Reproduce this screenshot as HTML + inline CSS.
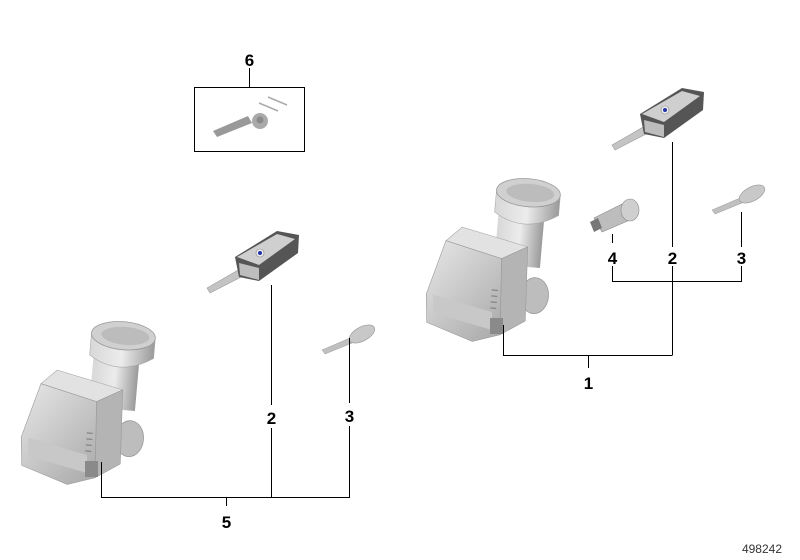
<!DOCTYPE html>
<html><head><meta charset="utf-8"><style>
html,body{margin:0;padding:0;background:#fff;}
svg{display:block}
text{font-family:"Liberation Sans",Arial,sans-serif;font-weight:bold;fill:#000}
</style></head><body>
<svg width="800" height="560" viewBox="0 0 800 560" xmlns="http://www.w3.org/2000/svg">
<defs>
<linearGradient id="g1" x1="0" y1="0" x2="1" y2="1"><stop offset="0" stop-color="#e6e6e6"/><stop offset="1" stop-color="#a8a8a8"/></linearGradient>
<linearGradient id="g2" x1="0" y1="0" x2="1" y2="0"><stop offset="0" stop-color="#d8d8d8"/><stop offset="0.5" stop-color="#ececec"/><stop offset="1" stop-color="#9a9a9a"/></linearGradient>
<g id="lock">
 <g transform="translate(4,0) rotate(5 490 265)">
  <ellipse cx="533" cy="292" rx="14" ry="18" fill="#bdbdbd" stroke="#999" stroke-width="0.8"/>
  <rect x="490" y="200" width="46" height="64" fill="url(#g2)"/>
  <path d="M486 192 L486 212 Q517 232 550 210 L550 192 Z" fill="url(#g2)" stroke="#aaa" stroke-width="0.6"/>
  <ellipse cx="518" cy="190" rx="32" ry="14" fill="#d0d0d0" stroke="#999" stroke-width="0.8"/>
  <ellipse cx="520" cy="190" rx="24" ry="9" fill="#bcbcbc"/>
  <path d="M440 245 L455 230 L522 244 L497 258 Z" fill="#e2e2e2" stroke="#aaa" stroke-width="0.6"/>
  <path d="M497 258 L522 244 L526 318 L502 334 Z" fill="#b4b4b4" stroke="#999" stroke-width="0.6"/>
  <path d="M440 245 L497 258 L502 334 L475 343 L428 328 L425 300 Z" fill="url(#g1)" stroke="#999" stroke-width="0.6"/>
  <path d="M432 300 L492 312 L494 330 L434 318 Z" fill="#c8c8c8"/>
  <g stroke="#777" stroke-width="1"><line x1="490" y1="290" x2="496" y2="290"/><line x1="490" y1="296" x2="496" y2="296"/><line x1="490" y1="302" x2="496" y2="302"/><line x1="490" y1="308" x2="496" y2="308"/></g>
 </g>
  <rect x="490" y="318" width="13" height="16" fill="#8a8a8a"/>
</g>
<g id="rkey">
  <path d="M612 145 L645 126 L650 132 L615 150 Z" fill="#c4c4c4" stroke="#999" stroke-width="0.6"/>
  <path d="M640 114 L682 88 L704 92 L703 110 L664 138 L644 134 Z" fill="#555"/>
  <path d="M642 114 L682 91 L700 96 L664 122 Z" fill="#cfcfcf"/>
  <path d="M644 120 L664 125 L664 137 L645 132 Z" fill="#bdbdbd"/>
  <circle cx="665" cy="110" r="4" fill="#eee" stroke="#888" stroke-width="0.6"/>
  <circle cx="665" cy="110" r="2" fill="#2233aa"/>
</g>
<g id="skey">
  <path d="M712 210 L740 198 L742 203 L715 214 Z" fill="#c0c0c0" stroke="#999" stroke-width="0.5"/>
  <ellipse cx="752" cy="194" rx="14" ry="7" transform="rotate(-28 752 194)" fill="#c8c8c8" stroke="#999" stroke-width="0.6"/>
</g>
</defs>

<use href="#lock"/>
<use href="#lock" transform="translate(-405,143)"/>
<use href="#rkey"/>
<use href="#rkey" transform="translate(-405,143)"/>
<use href="#skey"/>
<use href="#skey" transform="translate(-390,140)"/>

<path d="M594 218 L622 204 L630 220 L602 232 Z" fill="#bdbdbd" stroke="#888" stroke-width="0.6"/>
<path d="M590 222 L598 218 L602 228 L594 232 Z" fill="#777"/>
<ellipse cx="630" cy="210" rx="9" ry="11" fill="#cfcfcf" stroke="#888" stroke-width="0.6"/>

<rect x="194.5" y="87.5" width="110" height="64" fill="none" stroke="#000" stroke-width="1"/>
<line x1="249.5" y1="68" x2="249.5" y2="87" stroke="#000"/>
<path d="M213 131 L248 116 L252 123 L217 137 Z" fill="#999"/>
<circle cx="260" cy="121" r="8" fill="#aaa"/>
<circle cx="260" cy="120" r="3.5" fill="#8a8a8a"/>
<line x1="259" y1="103" x2="278" y2="111" stroke="#aaa" stroke-width="1.5"/>
<line x1="268" y1="97" x2="287" y2="105" stroke="#aaa" stroke-width="1.5"/>

<g stroke="#000" stroke-width="1" fill="none">
  <polyline points="503.5,325 503.5,355.5 672.5,355.5"/>
  <line x1="672.5" y1="142" x2="672.5" y2="247"/>
  <line x1="672.5" y1="266" x2="672.5" y2="355"/>
  <line x1="588.5" y1="355" x2="588.5" y2="368"/>
  <polyline points="612.5,266 612.5,281.5 741.5,281.5 741.5,266"/>
  <line x1="612.5" y1="234" x2="612.5" y2="243"/>
  <line x1="741.5" y1="212" x2="741.5" y2="247"/>
  <polyline points="101.5,462 101.5,497.5 349.5,497.5 349.5,426"/>
  <line x1="349.5" y1="338" x2="349.5" y2="403"/>
  <line x1="271.5" y1="285" x2="271.5" y2="405"/>
  <line x1="271.5" y1="428" x2="271.5" y2="497"/>
  <line x1="226.5" y1="497" x2="226.5" y2="506"/>
</g>

<g font-size="17">
  <text x="249.5" y="66" text-anchor="middle">6</text>
  <text x="588.5" y="389" text-anchor="middle">1</text>
  <text x="612.5" y="264" text-anchor="middle">4</text>
  <text x="672.5" y="264" text-anchor="middle">2</text>
  <text x="741.5" y="264" text-anchor="middle">3</text>
  <text x="271.5" y="424" text-anchor="middle">2</text>
  <text x="349.5" y="422" text-anchor="middle">3</text>
  <text x="226.5" y="528" text-anchor="middle">5</text>
</g>
<text x="782" y="553" text-anchor="end" font-size="12" style="font-weight:normal;fill:#333">498242</text>
</svg>
</body></html>
